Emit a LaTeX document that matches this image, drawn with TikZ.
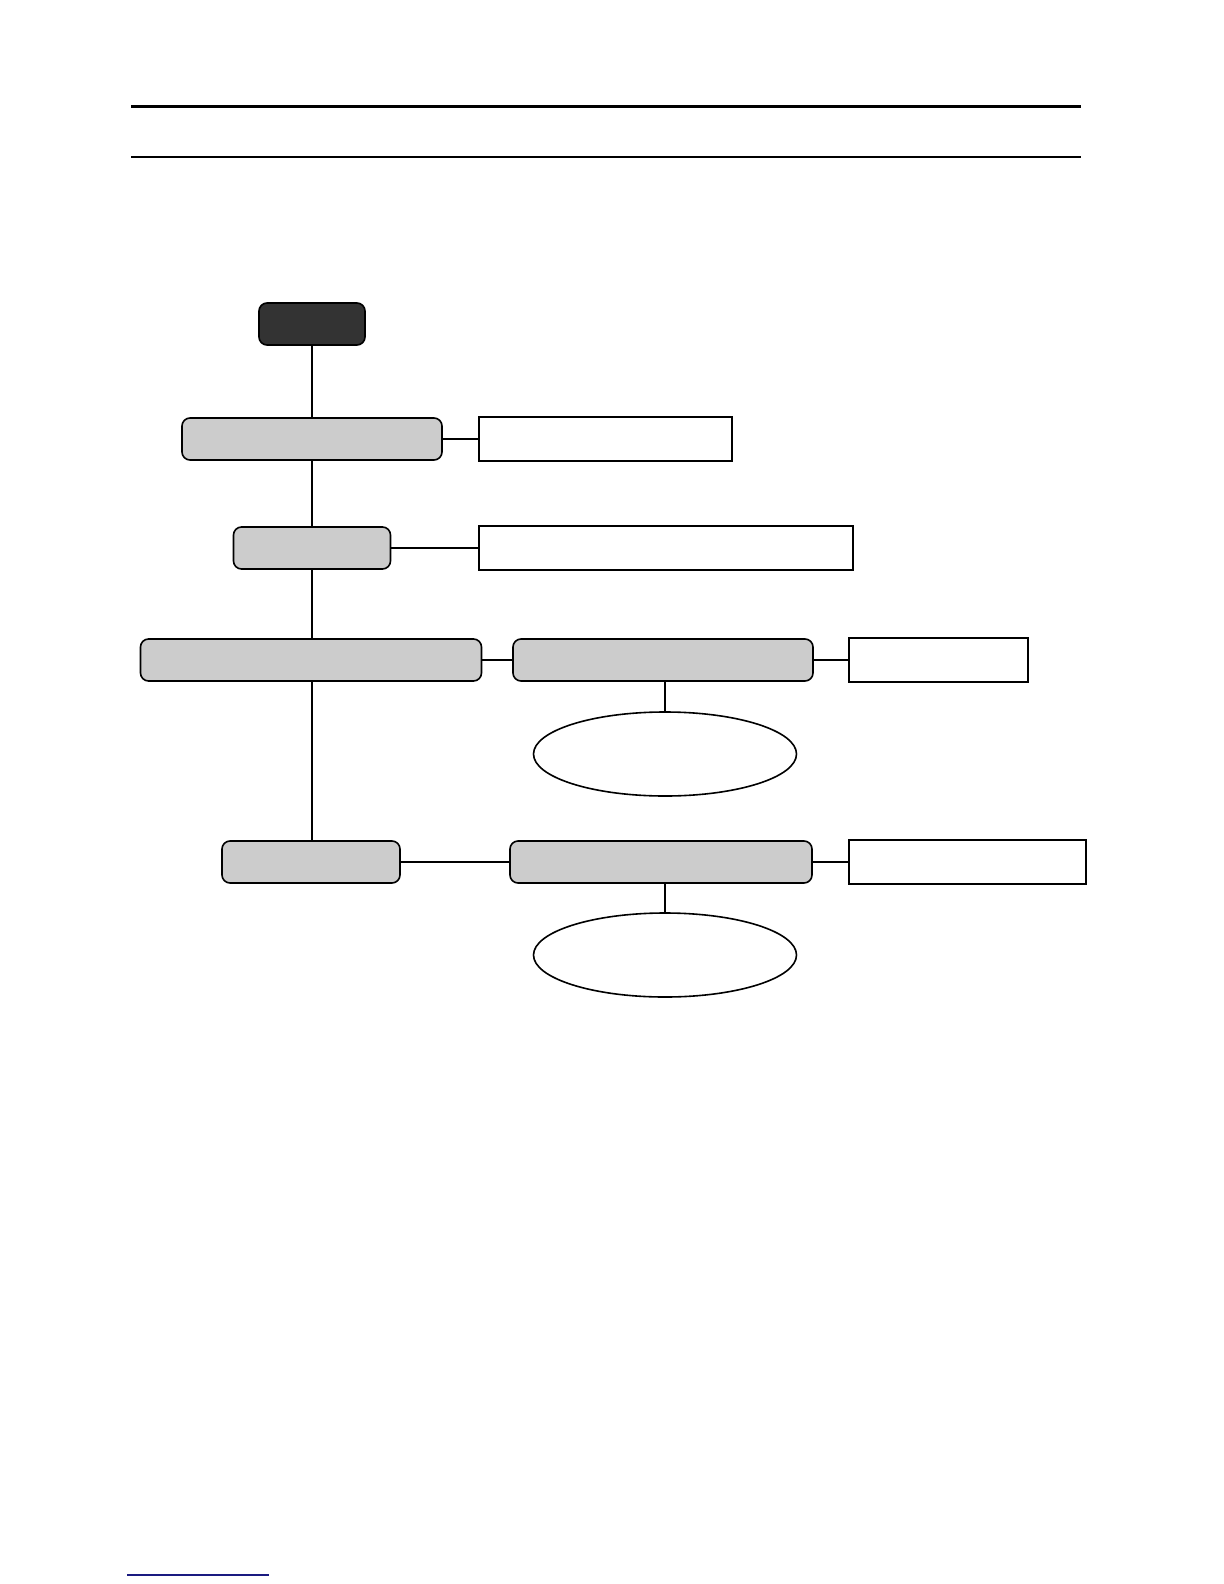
\documentclass[tikz,border=0pt]{standalone}
\usepackage{xcolor}
\usepackage{tikz}
\usetikzlibrary{shapes,positioning}

\definecolor{boxgray}{HTML}{CCCCCC}
\definecolor{boxdark}{HTML}{333333}
\definecolor{linkblue}{HTML}{1A1A80}

\begin{document}
\begin{tikzpicture}[x=0.5pt, y=-0.5pt]
				      \tikzset{align=center,font=\small}
				      \tikzset{darkbox/.style = {shape=rectangle,rounded corners=4pt,draw,fill=boxdark,line width=0.8pt,inner sep=0pt,minimum height=21pt}}
				      \tikzset{graybox/.style = {shape=rectangle,rounded corners=4pt,draw,fill=boxgray,line width=0.8pt,inner sep=0pt,minimum height=21pt}}
				      \tikzset{notebox/.style = {shape=rectangle,draw,fill=white,line width=1pt,inner sep=0pt,minimum height=22pt}}
				      \tikzset{bubble/.style = {shape=ellipse,draw,line width=0.8pt,inner sep=0pt,minimum width=131.5pt,minimum height=42pt}}
				      \tikzset{edge/.style = {-,line width=0.8pt}}

				      \useasboundingbox (0,0) rectangle (1224,1584);

				      % page rules
				      \draw[line width=1.5pt] (131,107) -- (1081,107);
				      \draw[line width=1pt] (131,157) -- (1081,157);
				      \draw[line width=1pt, linkblue] (127,1575) -- (269,1575);

				      \node[darkbox, minimum width=53pt] (1) at (312,324) {};
				      \node[graybox, minimum width=130pt] (2) at (312,439) {};
				      \node[notebox, minimum width=126.5pt] (3) at (605.5,439) {};
				      \node[graybox, minimum width=78.5pt] (4) at (312,548) {};
				      \node[notebox, minimum width=187pt] (5) at (666,548) {};
				      \node[graybox, minimum width=170.5pt] (6) at (311,660) {};
				      \node[graybox, minimum width=150pt] (7) at (663,660) {};
				      \node[notebox, minimum width=89.5pt] (8) at (938.5,660) {};
				      \node[bubble] (9) at (665,754) {};
				      \node[graybox, minimum width=89pt] (10) at (311,862) {};
				      \node[graybox, minimum width=151pt] (11) at (661,862) {};
				      \node[notebox, minimum width=118.5pt] (12) at (967.5,862) {};
				      \node[bubble] (13) at (665,955) {};

				      \path[every edge/.style={draw=black,edge}]
				      (1) edge (2)
				      (2) edge (4)
				      (4) edge (4|-6.north)
				      (4|-6.south) edge (4|-10.north)
				      (2) edge (3)
				      (4) edge (5)
				      (6) edge (7)
				      (7) edge (8)
				      (9|-7.south) edge (9)
				      (10) edge (11)
				      (11) edge (12)
				      (13|-11.south) edge (13)
				      ;

			      \end{tikzpicture}
\end{document}
